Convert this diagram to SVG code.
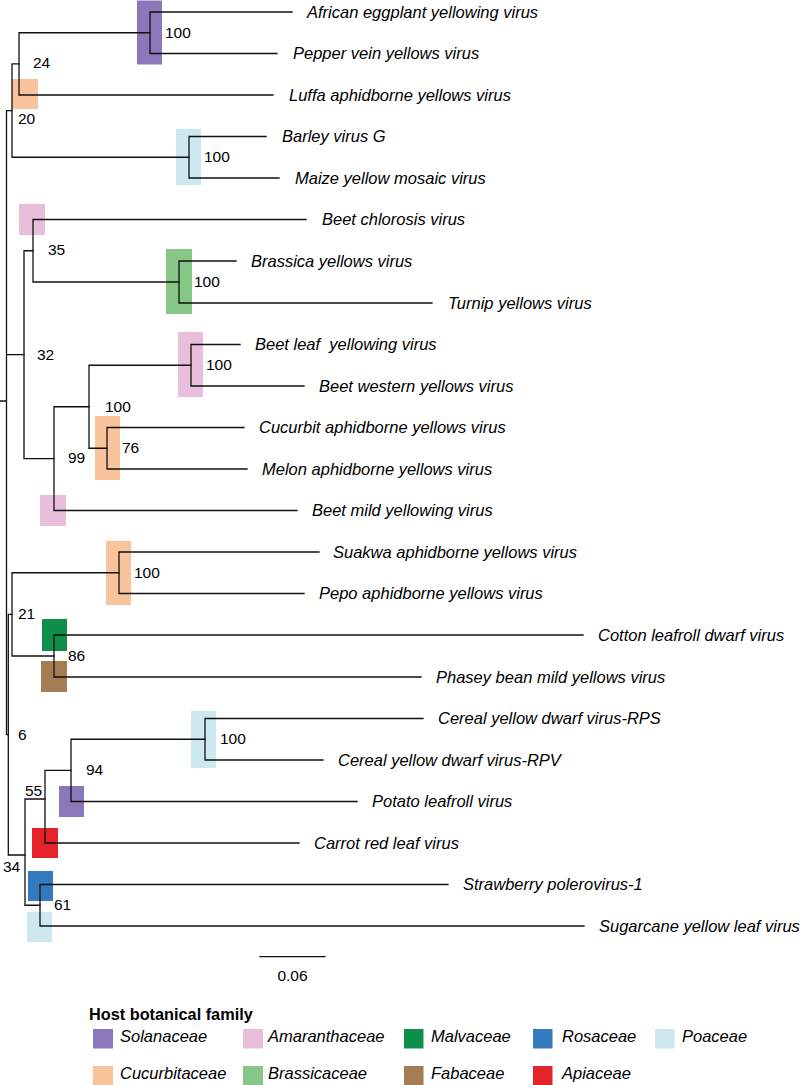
<svg xmlns="http://www.w3.org/2000/svg" width="800" height="1085" viewBox="0 0 800 1085">
<style>
.bg{fill:#ffffff}
.tree{fill:none;stroke:#111;stroke-width:1.3;stroke-linecap:square}
.leaf{font-family:"Liberation Sans",Arial,sans-serif;font-style:italic;font-size:16.5px;fill:#000;white-space:pre}
.sup{font-family:"Liberation Sans",Arial,sans-serif;font-size:15.5px;fill:#000}
.lg{font-family:"Liberation Sans",Arial,sans-serif;font-style:italic;font-size:16.5px;fill:#000}
.lgt{font-family:"Liberation Sans",Arial,sans-serif;font-weight:bold;font-size:16.3px;fill:#000}
.sol{fill:#8b78ba}.ama{fill:#e8bedb}.mal{fill:#0e8f4a}.ros{fill:#3579bf}.poa{fill:#cde8ef}
.cuc{fill:#f9c49c}.bra{fill:#86c687}.fab{fill:#a67c52}.api{fill:#e3222a}
</style>
<rect class="bg" x="0" y="0" width="800" height="1085"/>
<g id="highlights">
<rect class="sol" x="137" y="0.5" width="25" height="64"/>
<rect class="cuc" x="12" y="79" width="26" height="30"/>
<rect class="poa" x="176" y="129" width="25" height="56"/>
<rect class="ama" x="19" y="204" width="26" height="31"/>
<rect class="bra" x="166" y="249" width="26" height="65"/>
<rect class="ama" x="178" y="332" width="25" height="65"/>
<rect class="cuc" x="95" y="416" width="25" height="64"/>
<rect class="ama" x="40" y="495" width="26" height="31"/>
<rect class="cuc" x="106" y="541" width="25" height="64"/>
<rect class="mal" x="42" y="619" width="25" height="32"/>
<rect class="fab" x="41" y="661" width="26" height="31"/>
<rect class="poa" x="191" y="711" width="25" height="57"/>
<rect class="sol" x="59" y="786" width="25" height="31"/>
<rect class="api" x="32" y="828" width="26" height="30"/>
<rect class="ros" x="28" y="871" width="25" height="30"/>
<rect class="poa" x="27" y="912" width="25" height="30"/>
</g>
<g id="connectors" class="tree">
<path d="M0 401H6.5M6.5 110.6V734.7M6.5 110.6H12M6.5 354.7H24M6.5 734.7H8.3"/>
<path d="M12 63.9V157.25M12 63.9H19M12 157.25H189"/>
<path d="M19 32.75V95M19 32.75H150M19 95H273"/>
<path d="M150 12V53.5M150 12H292M150 53.5H277"/>
<path d="M189 136.5V178M189 136.5H266M189 178H279"/>
<path d="M24 250.75V458.6M24 250.75H33M24 458.6H54"/>
<path d="M33 219.5V282M33 219.5H306M33 282H179"/>
<path d="M179 261V303M179 261H236M179 303H432"/>
<path d="M54 406.75V510.5M54 406.75H89M54 510.5H297"/>
<path d="M89 365.25V448.25M89 365.25H191M89 448.25H107"/>
<path d="M191 344.5V386M191 344.5H240M191 386H304"/>
<path d="M107 427.5V469M107 427.5H244M107 469H247"/>
<path d="M8.3 614.4V855M8.3 614.4H12M8.3 855H25"/>
<path d="M12 572.75V656M12 572.75H119M12 656H54"/>
<path d="M119 552V593.5M119 552H319M119 593.5H304"/>
<path d="M54 635V677M54 635H583M54 677H421"/>
<path d="M25 799V905.25M25 799H45M25 905.25H40"/>
<path d="M45 770.4V843M45 770.4H71M45 843H299"/>
<path d="M71 739.25V801.5M71 739.25H205M71 801.5H357"/>
<path d="M205 718.5V760M205 718.5H423M205 760H323"/>
<path d="M40 884.5V926M40 884.5H448M40 926H584"/>
</g>
<g id="leaves">
<g id="leaf-aeyv"><text class="leaf" x="307" y="17.5">African eggplant yellowing virus</text></g>
<g id="leaf-pevyv"><text class="leaf" x="293" y="59">Pepper vein yellows virus</text></g>
<g id="leaf-layv"><text class="leaf" x="289" y="100.5">Luffa aphidborne yellows virus</text></g>
<g id="leaf-bvg"><text class="leaf" x="282" y="142">Barley virus G</text></g>
<g id="leaf-mymv"><text class="leaf" x="295" y="183.5">Maize yellow mosaic virus</text></g>
<g id="leaf-bchv"><text class="leaf" x="322" y="225">Beet chlorosis virus</text></g>
<g id="leaf-bryv"><text class="leaf" x="251" y="266.5">Brassica yellows virus</text></g>
<g id="leaf-tuyv"><text class="leaf" x="448" y="308.5">Turnip yellows virus</text></g>
<g id="leaf-blyv"><text class="leaf" x="255" y="350">Beet leaf  yellowing virus</text></g>
<g id="leaf-bwyv"><text class="leaf" x="319" y="391.5">Beet western yellows virus</text></g>
<g id="leaf-cabyv"><text class="leaf" x="259" y="433">Cucurbit aphidborne yellows virus</text></g>
<g id="leaf-mabyv"><text class="leaf" x="262" y="474.5">Melon aphidborne yellows virus</text></g>
<g id="leaf-bmyv"><text class="leaf" x="312" y="516">Beet mild yellowing virus</text></g>
<g id="leaf-sabyv"><text class="leaf" x="333" y="557.5">Suakwa aphidborne yellows virus</text></g>
<g id="leaf-pabyv"><text class="leaf" x="319" y="599">Pepo aphidborne yellows virus</text></g>
<g id="leaf-cldv"><text class="leaf" x="598" y="640.5">Cotton leafroll dwarf virus</text></g>
<g id="leaf-pbmyv"><text class="leaf" x="436" y="682.5">Phasey bean mild yellows virus</text></g>
<g id="leaf-cydvrps"><text class="leaf" x="438" y="724">Cereal yellow dwarf virus-RPS</text></g>
<g id="leaf-cydvrpv"><text class="leaf" x="338" y="765.5">Cereal yellow dwarf virus-RPV</text></g>
<g id="leaf-plrv"><text class="leaf" x="372" y="807">Potato leafroll virus</text></g>
<g id="leaf-crlv"><text class="leaf" x="314" y="848.5">Carrot red leaf virus</text></g>
<g id="leaf-spv1"><text class="leaf" x="463" y="890">Strawberry polerovirus-1</text></g>
<g id="leaf-scylv"><text class="leaf" x="599" y="931.5">Sugarcane yellow leaf virus</text></g>
</g>
<g id="support">
<text class="sup" x="165" y="37.5">100</text>
<text class="sup" x="33" y="68">24</text>
<text class="sup" x="18" y="124">20</text>
<text class="sup" x="204" y="162">100</text>
<text class="sup" x="48" y="255">35</text>
<text class="sup" x="194" y="286.5">100</text>
<text class="sup" x="37" y="360">32</text>
<text class="sup" x="206" y="370">100</text>
<text class="sup" x="105" y="412">100</text>
<text class="sup" x="122" y="453">76</text>
<text class="sup" x="68" y="463">99</text>
<text class="sup" x="134" y="578">100</text>
<text class="sup" x="18" y="619">21</text>
<text class="sup" x="68" y="661">86</text>
<text class="sup" x="18" y="740">6</text>
<text class="sup" x="220" y="744">100</text>
<text class="sup" x="86" y="775">94</text>
<text class="sup" x="25" y="796">55</text>
<text class="sup" x="3" y="872">34</text>
<text class="sup" x="54" y="910">61</text>
</g>
<g id="scale-bar">
<path class="tree" d="M260 956.7H325"/>
<text class="sup" x="292.5" y="981" text-anchor="middle">0.06</text>
</g>
<g id="legend">
<text class="lgt" x="89" y="1019.5">Host botanical family</text>
<rect class="sol" x="93" y="1029" width="20" height="19.5"/>
<text class="lg" x="120" y="1042">Solanaceae</text>
<rect class="ama" x="243" y="1029" width="20" height="19.5"/>
<text class="lg" x="268" y="1042">Amaranthaceae</text>
<rect class="mal" x="404" y="1029" width="19.5" height="19.5"/>
<text class="lg" x="431" y="1042">Malvaceae</text>
<rect class="ros" x="533" y="1029" width="19.5" height="19.5"/>
<text class="lg" x="562" y="1042">Rosaceae</text>
<rect class="poa" x="655" y="1029" width="19.5" height="19.5"/>
<text class="lg" x="682" y="1042">Poaceae</text>
<rect class="cuc" x="93" y="1066" width="20" height="19.5"/>
<text class="lg" x="120" y="1079">Cucurbitaceae</text>
<rect class="bra" x="243" y="1066" width="20" height="19.5"/>
<text class="lg" x="268" y="1079">Brassicaceae</text>
<rect class="fab" x="404" y="1066" width="19.5" height="19.5"/>
<text class="lg" x="431" y="1079">Fabaceae</text>
<rect class="api" x="533" y="1066" width="19.5" height="19.5"/>
<text class="lg" x="562" y="1079">Apiaceae</text>
</g>
</svg>
